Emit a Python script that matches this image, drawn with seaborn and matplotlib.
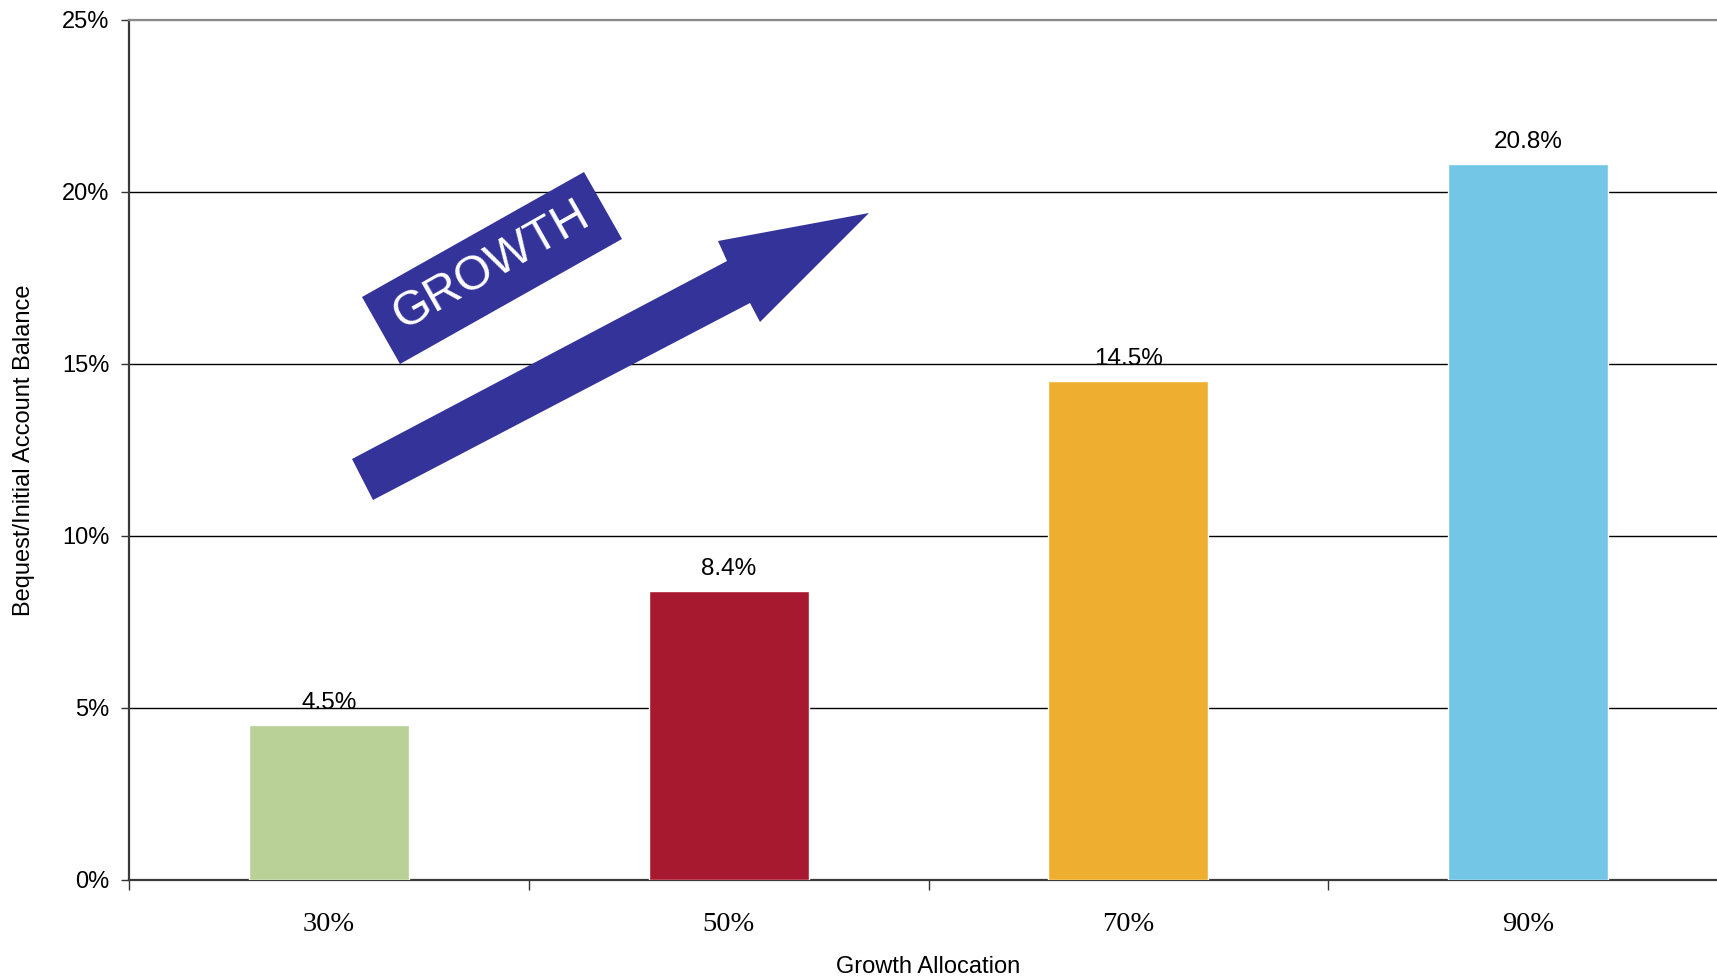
import matplotlib
matplotlib.use("Agg")
import matplotlib.pyplot as plt
import seaborn as sns
import pandas as pd
from matplotlib.patches import Polygon
from matplotlib.transforms import Affine2D
from matplotlib.ticker import FuncFormatter

# ---- data ----
categories = ["30%", "50%", "70%", "90%"]
values = [4.5, 8.4, 14.5, 20.8]
bar_colors = ["#B9D096", "#A6192E", "#EEAF30", "#73C6E5"]
yticks = [0, 5, 10, 15, 20, 25]
x_title = "Growth Allocation"
y_title = "Bequest/Initial Account Balance"
banner_text = "GROWTH"

# ---- decoration geometry (pixels from top-left) ----
ARROW_PTS = [(373, 500), (352, 459), (727, 261), (718, 241), (869, 213), (760, 322), (750, 303)]
BOX_PTS = [(362, 297), (584, 172), (622, 239), (400, 364)]
NAVY = "#333399"

sns.set_style("white")
plt.rcParams["font.family"] = ["Liberation Sans", "DejaVu Sans"]

W, H = 1717, 977
fig = plt.figure(figsize=(W / 100, H / 100), dpi=100)
ax = fig.add_axes([129 / W, 1 - 880 / H, 1599 / W, 860 / H])

df = pd.DataFrame({"alloc": categories, "value": values})
sns.barplot(data=df, x="alloc", y="value", hue="alloc", palette=bar_colors,
            legend=False, width=0.4, saturation=1, ax=ax, zorder=3)

ax.set_xlim(-0.5, 3.5)
ax.set_ylim(0, 25)
ax.set_yticks(yticks)
ax.yaxis.set_major_formatter(FuncFormatter(lambda v, p: f"{v:.0f}%"))

ax.set_axisbelow(True)
ax.yaxis.grid(True, color="black", lw=1.0)
ax.xaxis.grid(False)
gl = ax.get_ygridlines()
gl[-1].set_color("#8a8a8a")
gl[-1].set_linewidth(1.6)

ax.spines["right"].set_visible(False)
ax.spines["top"].set_color("#8a8a8a")
ax.spines["top"].set_linewidth(1.6)
for s in ["left", "bottom"]:
    ax.spines[s].set_color("#3a3a3a")
    ax.spines[s].set_linewidth(1.6)

ax.tick_params(axis="y", which="major", left=True, direction="out", length=6,
               width=1, color="#333333", pad=8, labelsize=17, labelcolor="black")
ax.set_xticks(range(len(categories)))
ax.set_xticklabels(categories)
ax.set_xticks([-0.5, 0.5, 1.5, 2.5, 3.5], minor=True)
ax.tick_params(axis="x", which="major", bottom=True, length=0, pad=23,
               labelsize=20.5, labelcolor="black")
ax.tick_params(axis="x", which="minor", bottom=True, direction="out", length=7,
               width=1, color="#333333")
for lbl in ax.get_xticklabels():
    lbl.set_fontfamily(["Liberation Serif", "DejaVu Serif"])

ax.set_xlabel(x_title, fontsize=17, color="black")
ax.xaxis.set_label_coords(0.5, -0.0884)
ax.set_ylabel(y_title, fontsize=17, color="black")
ax.yaxis.set_label_coords(-0.0585, 0.5)

for cont in ax.containers:
    ax.bar_label(cont, fmt="%.1f%%", padding=8, fontsize=17.5, color="black")

pix = Affine2D().scale(1 / W, -1 / H).translate(0, 1) + fig.transFigure
fig.add_artist(Polygon(ARROW_PTS, closed=True, transform=pix, facecolor=NAVY,
                       edgecolor="none", zorder=5))
fig.add_artist(Polygon(BOX_PTS, closed=True, transform=pix, facecolor=NAVY,
                       edgecolor="none", zorder=5))
fig.text(491 / W, 1 - 265 / H, banner_text, rotation=29.5, rotation_mode="anchor",
         color="white", fontsize=34.5, ha="center", va="center", zorder=6)

fig.savefig("out.png", dpi=100)
